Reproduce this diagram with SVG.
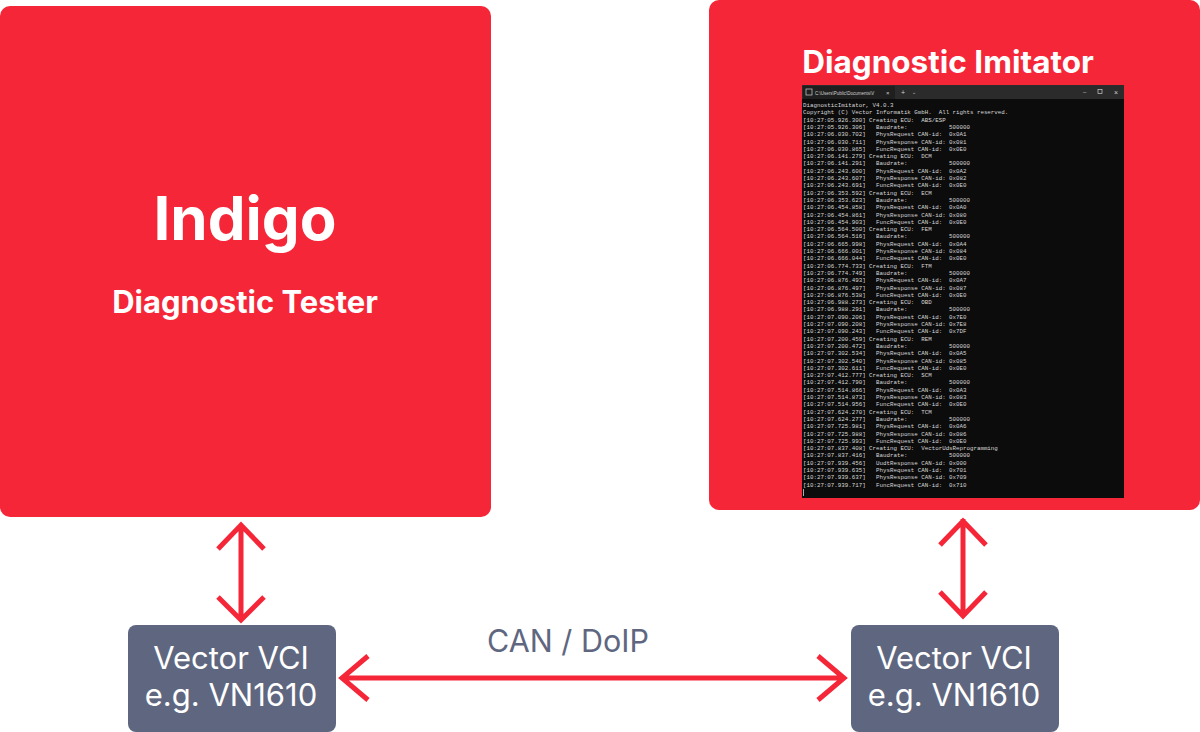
<svg xmlns="http://www.w3.org/2000/svg" width="1200" height="732" viewBox="0 0 1200 732">
<style>
.red{fill:#f42637}
.vci{fill:#5f6780}
.wt{fill:#ffffff;font-family:Inter,"Liberation Sans",sans-serif;text-anchor:middle}
.b{font-weight:700}
.conn{stroke:#f42637;stroke-width:5;fill:none;stroke-linecap:butt;stroke-linejoin:miter}
.con{font-family:"Liberation Mono","DejaVu Sans Mono",monospace;font-size:5.8px;fill:#d8d8d8;white-space:pre}
.tb{font-family:"Liberation Sans",sans-serif;fill:#d0d0d0}
</style>
<g id="indigo">
<rect class="red" x="0" y="6" width="491" height="511" rx="10"/>
<text class="wt b" x="245" y="240" font-size="60">Indigo</text>
<text class="wt b" x="245" y="313" font-size="31">Diagnostic Tester</text>
</g>
<g id="imitator">
<rect class="red" x="709" y="0" width="491" height="510" rx="10"/>
<text class="wt b" x="948" y="73" font-size="31.5">Diagnostic Imitator</text>
<g id="console">
<rect x="802" y="85" width="322" height="413" fill="#0c0c0c"/>
<rect x="802" y="85" width="322" height="14" fill="#2b2b2b"/>
<rect x="803" y="86" width="92" height="13" fill="#1f1f1f"/>
<rect x="806" y="89" width="6" height="6" fill="none" stroke="#bbb" stroke-width="0.8"/>
<text class="tb" x="815" y="94.5" font-size="4.5">C:\Users\Public\Documents\V</text>
<text class="tb" x="886" y="95" font-size="6">×</text>
<text class="tb" x="901" y="95" font-size="7">+</text>
<text class="tb" x="912" y="94" font-size="5">⌄</text>
<text class="tb" x="1083" y="94" font-size="6">–</text>
<rect x="1098" y="89.5" width="4" height="4" fill="none" stroke="#ccc" stroke-width="0.7"/>
<text class="tb" x="1114" y="95" font-size="7">×</text>
<text class="con" x="803" y="107">DiagnosticImitator, V4.0.3</text>
<text class="con" x="803" y="114.3">Copyright (C) Vector Informatik GmbH.  All rights reserved.</text>
<text class="con" x="803" y="121.6">[10:27:05.926.300] Creating ECU:  ABS/ESP</text>
<text class="con" x="803" y="128.9">[10:27:05.926.306]   Baudrate:            500000</text>
<text class="con" x="803" y="136.2">[10:27:06.030.702]   PhysRequest CAN-id:  0x0A1</text>
<text class="con" x="803" y="143.5">[10:27:06.030.711]   PhysResponse CAN-id: 0x081</text>
<text class="con" x="803" y="150.8">[10:27:06.030.865]   FuncRequest CAN-id:  0x0E0</text>
<text class="con" x="803" y="158.1">[10:27:06.141.279] Creating ECU:  DCM</text>
<text class="con" x="803" y="165.4">[10:27:06.141.291]   Baudrate:            500000</text>
<text class="con" x="803" y="172.7">[10:27:06.243.600]   PhysRequest CAN-id:  0x0A2</text>
<text class="con" x="803" y="180.0">[10:27:06.243.607]   PhysResponse CAN-id: 0x082</text>
<text class="con" x="803" y="187.3">[10:27:06.243.691]   FuncRequest CAN-id:  0x0E0</text>
<text class="con" x="803" y="194.6">[10:27:06.353.592] Creating ECU:  ECM</text>
<text class="con" x="803" y="201.9">[10:27:06.353.623]   Baudrate:            500000</text>
<text class="con" x="803" y="209.2">[10:27:06.454.858]   PhysRequest CAN-id:  0x0A0</text>
<text class="con" x="803" y="216.5">[10:27:06.454.861]   PhysResponse CAN-id: 0x080</text>
<text class="con" x="803" y="223.8">[10:27:06.454.903]   FuncRequest CAN-id:  0x0E0</text>
<text class="con" x="803" y="231.1">[10:27:06.564.500] Creating ECU:  FEM</text>
<text class="con" x="803" y="238.4">[10:27:06.564.516]   Baudrate:            500000</text>
<text class="con" x="803" y="245.7">[10:27:06.665.998]   PhysRequest CAN-id:  0x0A4</text>
<text class="con" x="803" y="253.0">[10:27:06.666.001]   PhysResponse CAN-id: 0x084</text>
<text class="con" x="803" y="260.3">[10:27:06.666.044]   FuncRequest CAN-id:  0x0E0</text>
<text class="con" x="803" y="267.6">[10:27:06.774.733] Creating ECU:  FTM</text>
<text class="con" x="803" y="274.9">[10:27:06.774.749]   Baudrate:            500000</text>
<text class="con" x="803" y="282.2">[10:27:06.876.493]   PhysRequest CAN-id:  0x0A7</text>
<text class="con" x="803" y="289.5">[10:27:06.876.497]   PhysResponse CAN-id: 0x087</text>
<text class="con" x="803" y="296.8">[10:27:06.876.538]   FuncRequest CAN-id:  0x0E0</text>
<text class="con" x="803" y="304.1">[10:27:06.988.273] Creating ECU:  OBD</text>
<text class="con" x="803" y="311.4">[10:27:06.988.291]   Baudrate:            500000</text>
<text class="con" x="803" y="318.7">[10:27:07.090.206]   PhysRequest CAN-id:  0x7E0</text>
<text class="con" x="803" y="326.0">[10:27:07.090.208]   PhysResponse CAN-id: 0x7E8</text>
<text class="con" x="803" y="333.3">[10:27:07.090.243]   FuncRequest CAN-id:  0x7DF</text>
<text class="con" x="803" y="340.6">[10:27:07.200.459] Creating ECU:  REM</text>
<text class="con" x="803" y="347.9">[10:27:07.200.472]   Baudrate:            500000</text>
<text class="con" x="803" y="355.2">[10:27:07.302.534]   PhysRequest CAN-id:  0x0A5</text>
<text class="con" x="803" y="362.5">[10:27:07.302.540]   PhysResponse CAN-id: 0x085</text>
<text class="con" x="803" y="369.8">[10:27:07.302.611]   FuncRequest CAN-id:  0x0E0</text>
<text class="con" x="803" y="377.1">[10:27:07.412.777] Creating ECU:  SCM</text>
<text class="con" x="803" y="384.4">[10:27:07.412.790]   Baudrate:            500000</text>
<text class="con" x="803" y="391.7">[10:27:07.514.866]   PhysRequest CAN-id:  0x0A3</text>
<text class="con" x="803" y="399.0">[10:27:07.514.873]   PhysResponse CAN-id: 0x083</text>
<text class="con" x="803" y="406.3">[10:27:07.514.956]   FuncRequest CAN-id:  0x0E0</text>
<text class="con" x="803" y="413.6">[10:27:07.624.270] Creating ECU:  TCM</text>
<text class="con" x="803" y="420.9">[10:27:07.624.277]   Baudrate:            500000</text>
<text class="con" x="803" y="428.2">[10:27:07.725.981]   PhysRequest CAN-id:  0x0A6</text>
<text class="con" x="803" y="435.5">[10:27:07.725.988]   PhysResponse CAN-id: 0x086</text>
<text class="con" x="803" y="442.8">[10:27:07.725.993]   FuncRequest CAN-id:  0x0E0</text>
<text class="con" x="803" y="450.1">[10:27:07.837.408] Creating ECU:  VectorUdsReprogramming</text>
<text class="con" x="803" y="457.4">[10:27:07.837.416]   Baudrate:            500000</text>
<text class="con" x="803" y="464.7">[10:27:07.939.456]   UudtResponse CAN-id: 0x000</text>
<text class="con" x="803" y="472.0">[10:27:07.939.635]   PhysRequest CAN-id:  0x701</text>
<text class="con" x="803" y="479.3">[10:27:07.939.637]   PhysResponse CAN-id: 0x709</text>
<text class="con" x="803" y="486.6">[10:27:07.939.717]   FuncRequest CAN-id:  0x710</text>
<rect x="803" y="489" width="0.8" height="7" fill="#d8d8d8"/>
</g>
</g>
<g id="vci-left">
<rect class="vci" x="128" y="625" width="208" height="107" rx="8"/>
<text class="wt" x="231" y="669" font-size="31">Vector VCI</text>
<text class="wt" x="231" y="706" font-size="31">e.g. VN1610</text>
</g>
<g id="vci-right">
<rect class="vci" x="851" y="625" width="208" height="107" rx="8"/>
<text class="wt" x="954" y="669" font-size="31">Vector VCI</text>
<text class="wt" x="954" y="706" font-size="31">e.g. VN1610</text>
</g>
<g id="connectors">
<path class="conn" d="M241 524 V619 M218 549 L241 525 L264 549 M218 597 L241 620 L264 597"/>
<path class="conn" d="M963 519 V616 M940 545 L963 521 L986 545 M940 592 L963 616 L986 592"/>
<path class="conn" d="M342 678 H844 M368 656 L342 678 L368 700 M818 656 L844 678 L818 700"/>
<text x="568" y="652" font-size="30.5" fill="#5f6780" font-family="Inter,'Liberation Sans',sans-serif" text-anchor="middle">CAN / DoIP</text>
</g>
</svg>
